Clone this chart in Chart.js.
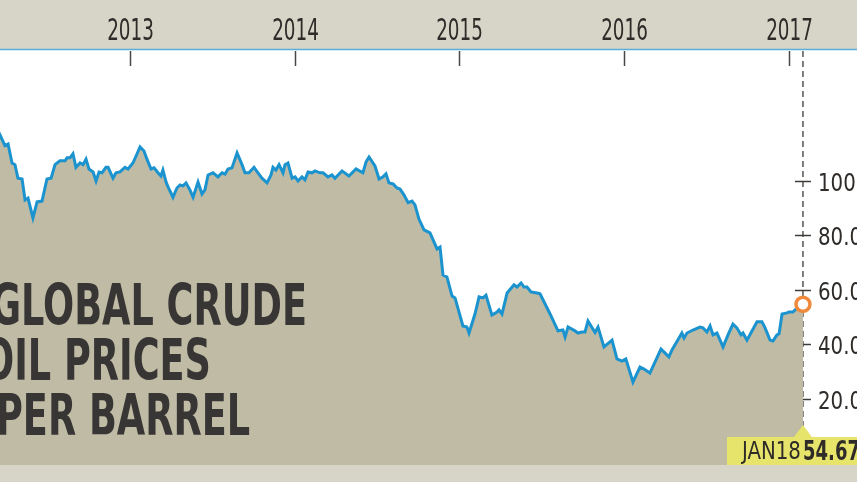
<!DOCTYPE html>
<html>
<head>
<meta charset="utf-8">
<script src="https://cdn.jsdelivr.net/npm/chart.js@4.4.1/dist/chart.umd.min.js"></script>
<style>
  html, body { margin: 0; padding: 0; background: #fff; }
  #wrap { position: relative; width: 857px; height: 482px; overflow: hidden; }
  #oil { display: block; }
  .title { position: absolute; left: 0; top: 278px; font-family: 'Liberation Sans Narrow', 'DejaVu Sans Condensed', sans-serif;
           font-weight: bold; font-size: 57px; line-height: 55px; color: #383535; white-space: nowrap; }
  .title div { transform: scaleX(0.715); transform-origin: left top; }
  .tag { position: absolute; top: 436px; font-family: 'Liberation Sans Narrow', 'DejaVu Sans Condensed', sans-serif;
         font-size: 25px; line-height: 30px; color: #2e2b28; white-space: nowrap; transform-origin: left top; }
  .tag.date { left: 742px; transform: scaleX(0.88); }
  .tag.val { left: 803px; font-weight: bold; font-size: 26px; transform: scaleX(0.77); }
</style>
</head>
<body>
<div id="wrap">
  <canvas id="oil" width="857" height="482"></canvas>
  <div class="title">
    <div style="margin-left:-9px">GLOBAL CRUDE</div>
    <div style="margin-left:-17px">OIL PRICES</div>
    <div style="margin-left:-4px">PER BARREL</div>
  </div>
  <div class="tag date">JAN18</div>
  <div class="tag val">54.67</div>
</div>
<script>
// weekly-ish crude price (x = decimal year)
var dates = [2012.195, 2012.211, 2012.241, 2012.260, 2012.284, 2012.302, 2012.320, 2012.345, 2012.363, 2012.381,
  2012.411, 2012.436, 2012.466, 2012.496, 2012.521, 2012.545, 2012.575, 2012.606, 2012.618, 2012.636,
  2012.654, 2012.672, 2012.697, 2012.715, 2012.733, 2012.751, 2012.776, 2012.794, 2012.812, 2012.830,
  2012.854, 2012.867, 2012.897, 2012.915, 2012.939, 2012.970, 2012.988, 2013.018, 2013.043, 2013.061,
  2013.085, 2013.103, 2013.128, 2013.146, 2013.170, 2013.188, 2013.200, 2013.219, 2013.231, 2013.261,
  2013.285, 2013.304, 2013.322, 2013.340, 2013.364, 2013.383, 2013.413, 2013.437, 2013.455, 2013.474,
  2013.504, 2013.534, 2013.559, 2013.577, 2013.595, 2013.619, 2013.650, 2013.680, 2013.698, 2013.722,
  2013.753, 2013.777, 2013.801, 2013.832, 2013.856, 2013.868, 2013.886, 2013.905, 2013.929, 2013.941,
  2013.959, 2013.984, 2014.002, 2014.020, 2014.044, 2014.062, 2014.081, 2014.105, 2014.123, 2014.153,
  2014.172, 2014.202, 2014.226, 2014.244, 2014.287, 2014.329, 2014.372, 2014.414, 2014.433, 2014.451,
  2014.487, 2014.512, 2014.536, 2014.554, 2014.572, 2014.597, 2014.621, 2014.639, 2014.663, 2014.688,
  2014.712, 2014.730, 2014.754, 2014.785, 2014.821, 2014.864, 2014.882, 2014.900, 2014.924, 2014.955,
  2014.973, 2015.021, 2015.045, 2015.058, 2015.094, 2015.119, 2015.143, 2015.161, 2015.197, 2015.228,
  2015.240, 2015.258, 2015.289, 2015.331, 2015.349, 2015.374, 2015.392, 2015.410, 2015.434, 2015.471,
  2015.489, 2015.550, 2015.598, 2015.628, 2015.641, 2015.659, 2015.701, 2015.719, 2015.744, 2015.762,
  2015.780, 2015.823, 2015.841, 2015.877, 2015.926, 2015.956, 2015.986, 2016.010, 2016.053, 2016.096,
  2016.120, 2016.156, 2016.223, 2016.247, 2016.271, 2016.290, 2016.350, 2016.363, 2016.381, 2016.417,
  2016.460, 2016.478, 2016.502, 2016.521, 2016.539, 2016.563, 2016.600, 2016.630, 2016.660, 2016.684,
  2016.709, 2016.721, 2016.745, 2016.806, 2016.836, 2016.855, 2016.885, 2016.903, 2016.927, 2016.940,
  2016.958, 2016.988, 2017.000, 2017.024, 2017.049, 2017.085];

var prices = [119, 116.9, 113, 113.6, 106.6, 106, 101, 100.7, 93, 93.7,
  86.4, 92.3, 92.6, 100.7, 101, 106, 107.4, 107.4, 108.5, 108.5,
  110, 105, 106.6, 106, 108, 104.4, 103.3, 100, 103.3, 103,
  105, 105, 101, 103, 103.3, 105, 104.4, 106.6, 110, 112.5,
  111, 108, 104.4, 104.8, 103, 101.8, 104, 99.6, 97.8, 94,
  97.4, 98.5, 98.2, 99.3, 96.7, 94, 99.6, 95.2, 96.7, 102.2,
  103, 101.5, 103, 102.5, 104.4, 104.8, 110.3, 106, 103, 103,
  105, 103, 101, 99.3, 102.2, 105, 104, 106, 103, 106,
  106.6, 101, 101.5, 100, 101.5, 100.4, 103.3, 103, 103.7, 103,
  103, 101.5, 102.2, 101, 103.7, 101.8, 104.4, 103, 107, 108.8,
  105.5, 100.7, 101.5, 102.6, 99.3, 98.9, 97.4, 97, 94.9, 92,
  92.6, 91.2, 86, 82, 80.9, 75, 75.7, 65.4, 64.7, 57.7,
  57, 46.7, 46.3, 44.1, 51.1, 57.4, 57, 58, 50.7, 51.8,
  52.6, 51.1, 58.8, 61.8, 61, 62.5, 61, 61, 59.2, 58.8,
  58.5, 51.1, 44.9, 45.2, 42.6, 46.3, 44.9, 44.1, 44.5, 44.5,
  48.5, 44.3, 46.3, 39, 41.5, 34.6, 33.8, 34.6, 26.1, 31.6,
  30.9, 29.4, 38.2, 36.8, 35.3, 37.9, 44.1, 42.3, 44.1, 45.2,
  46.3, 46, 44.5, 46.7, 43.4, 44.1, 39, 43.4, 47.4, 46,
  43.4, 44.1, 41.5, 48.2, 48.2, 46, 41.5, 41.2, 43.4, 43.8,
  51.1, 51.5, 51.8, 51.8, 53.3, 54.67];

var yearTicks = [2013, 2014, 2015, 2016, 2017];
var priceTicks = [100, 80, 60, 40, 20];
var priceLabels = ['100.0', '80.0', '60.0', '40.0', '20.0'];

var FONT = "'Liberation Sans Narrow', 'DejaVu Sans Condensed', sans-serif";
var lastIdx = prices.length - 1;

// condensed text: squeeze horizontally around the anchor
function narrowText(c, txt, x, y, sx, align) {
  c.save();
  c.translate(x, y);
  c.scale(sx, 1);
  c.textAlign = align;
  c.fillText(txt, 0, 0);
  c.restore();
}

var decor = {
  id: 'decor',
  beforeDraw: function (chart) {
    var c = chart.ctx, a = chart.chartArea;
    c.save();
    c.fillStyle = '#fff';
    c.fillRect(0, 0, chart.width, chart.height);
    c.fillStyle = '#d7d4c8';
    c.fillRect(0, 0, chart.width, a.top);
    c.fillRect(0, a.bottom, chart.width, chart.height - a.bottom);
    c.restore();
  },
  beforeDatasetsDraw: function (chart) {
    var c = chart.ctx, a = chart.chartArea;
    var xs = chart.scales.x, ys = chart.scales.y;
    var lx = xs.getPixelForValue(dates[lastIdx]);
    c.save();
    // blue rule under the year band
    c.strokeStyle = '#5aafd6';
    c.lineWidth = 1.5;
    c.beginPath(); c.moveTo(0, a.top + 0.5); c.lineTo(chart.width, a.top + 0.5); c.stroke();
    // year labels + ticks
    c.strokeStyle = '#4a4744';
    c.fillStyle = '#2e2b28';
    c.lineWidth = 1.5;
    c.font = '30px ' + FONT;
    c.textBaseline = 'alphabetic';
    yearTicks.forEach(function (yr) {
      var px = Math.round(xs.getPixelForValue(yr)) + 0.5;
      c.beginPath(); c.moveTo(px, a.top + 2); c.lineTo(px, a.top + 17); c.stroke();
      narrowText(c, String(yr), px, 40, 0.68, 'center');
    });
    // dashed marker line
    c.setLineDash([6, 4]);
    c.lineWidth = 1.3;
    c.strokeStyle = '#3d3a37';
    c.beginPath(); c.moveTo(lx, a.top + 2); c.lineTo(lx, 426); c.stroke();
    c.setLineDash([]);
    // price ticks + labels
    c.lineWidth = 1.5;
    c.font = '25px ' + FONT;
    priceTicks.forEach(function (v, i) {
      var py = Math.round(ys.getPixelForValue(v)) + 0.5;
      c.beginPath(); c.moveTo(lx - 8, py); c.lineTo(lx + 8, py); c.stroke();
      narrowText(c, priceLabels[i], lx + 15, py + 9.5, 0.88, 'left');
    });
    c.restore();
  },
  afterDatasetsDraw: function (chart) {
    var c = chart.ctx, a = chart.chartArea;
    var lx = chart.scales.x.getPixelForValue(dates[lastIdx]);
    c.save();
    c.fillStyle = '#e7e46b';
    c.beginPath();
    c.moveTo(727, 437); c.lineTo(lx - 9, 437); c.lineTo(lx, 425); c.lineTo(lx + 9, 437);
    c.lineTo(chart.width, 437); c.lineTo(chart.width, a.bottom); c.lineTo(727, a.bottom);
    c.closePath(); c.fill();
    c.restore();
  }
};

new Chart('oil', {
  type: 'line',
  data: {
    datasets: [{
      data: dates.map(function (d, i) { return { x: d, y: prices[i] }; }),
      borderColor: '#1b93cf',
      borderWidth: 3,
      backgroundColor: '#bfbba4',
      fill: 'start',
      tension: 0,
      pointRadius: function (ctx) { return ctx.dataIndex === lastIdx ? 7 : 0; },
      pointBorderWidth: 3.5,
      pointBorderColor: '#ef8a3c',
      pointBackgroundColor: '#fff'
    }]
  },
  options: {
    responsive: false,
    animation: false,
    layout: { autoPadding: false, padding: { top: 0, bottom: 17, left: 0, right: 0 } },
    plugins: { legend: { display: false }, tooltip: { enabled: false } },
    scales: {
      x: {
        type: 'linear',
        position: 'top',
        min: 2012.211,
        max: 2017.413,
        afterBuildTicks: function (s) { s.ticks = yearTicks.map(function (v) { return { value: v }; }); },
        afterFit: function (s) { s.height = 49; s.paddingLeft = 0; s.paddingRight = 0; },
        grid: { display: false, drawTicks: false },
        border: { display: false },
        ticks: { display: false }
      },
      y: {
        display: false,
        min: -4.41,
        max: 148.5
      }
    }
  },
  plugins: [decor]
});
</script>
</body>
</html>
